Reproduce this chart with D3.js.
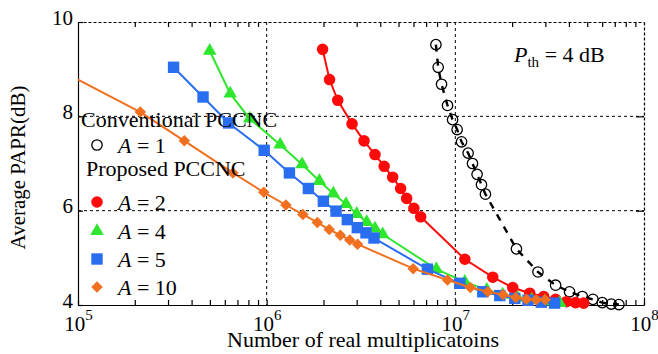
<!DOCTYPE html>
<html>
<head>
<meta charset="utf-8">
<script src="https://cdn.jsdelivr.net/npm/d3@7"></script>
<style>
    body { margin: 0; background: white; }
    svg { display: block; }
    svg text { font-family: "Liberation Serif", "Times New Roman", serif; }
</style>
</head>
<body>
<div id="papr_plot"></div>
<script>
// Conventional PCCNC, A = 1
const convX = [7.89e6, 8.11e6, 8.45e6, 9.09e6, 9.67e6, 1.022e7, 1.079e7, 1.169e7, 1.233e7, 1.304e7, 1.376e7,
    1.444e7, 2.108e7, 2.742e7, 3.40e7, 4.03e7, 4.71e7, 5.36e7, 6.01e7, 6.71e7, 7.36e7];
const convY = [9.52, 9.04, 8.68, 8.23, 7.93, 7.72, 7.46, 7.22, 7.00, 6.77, 6.55,
    6.35, 5.19, 4.70, 4.42, 4.28, 4.18, 4.12, 4.05, 4.02, 4.01];
// Proposed PCCNC
const a2X = [1.979e6, 2.154e6, 2.381e6, 2.835e6, 3.281e6, 3.751e6, 4.196e6, 4.653e6, 5.13e6, 5.52e6, 6.03e6,
    6.55e6, 1.123e7, 1.579e7, 2.015e7, 2.479e7, 2.94e7, 3.40e7, 3.88e7, 4.34e7, 4.79e7];
const a2Y = [9.42, 8.78, 8.34, 7.84, 7.48, 7.19, 6.94, 6.71, 6.47, 6.26, 6.05,
    5.87, 4.97, 4.59, 4.37, 4.25, 4.18, 4.12, 4.07, 4.05, 4.04];
const a4X = [4.99e5, 6.41e5, 8.13e5, 1.179e6, 1.541e6, 1.903e6, 2.256e6, 2.634e6, 3.0e6, 3.39e6, 3.751e6,
    4.12e6, 7.93e6, 1.123e7, 1.468e7, 1.784e7, 2.141e7, 2.54e7, 2.975e7, 3.573e7];
const a4Y = [9.39, 8.48, 7.95, 7.40, 6.98, 6.63, 6.36, 6.14, 5.93, 5.76, 5.62,
    5.50, 4.76, 4.49, 4.32, 4.22, 4.15, 4.11, 4.07, 4.04];
const a5X = [3.21e5, 4.60e5, 6.28e5, 9.70e5, 1.32e6, 1.664e6, 1.998e6, 2.332e6, 2.676e6, 3.023e6, 3.36e6,
    3.706e6, 7.11e6, 1.056e7, 1.398e7, 1.72e7, 2.065e7, 2.428e7, 2.858e7, 3.36e7];
const a5Y = [9.04, 8.41, 7.86, 7.28, 6.80, 6.47, 6.20, 5.99, 5.81, 5.64, 5.53,
    5.42, 4.76, 4.46, 4.28, 4.20, 4.14, 4.10, 4.06, 4.04];
const a10X = [8.08e4, 2.14e5, 3.66e5, 6.63e5, 9.66e5, 1.264e6, 1.556e6, 1.855e6, 2.146e6, 2.458e6, 2.756e6,
    3.03e6, 5.98e6, 9.09e6, 1.201e7, 1.486e7, 1.79e7, 2.09e7, 2.381e7, 2.683e7, 2.994e7];
const a10Y = [8.97, 8.09, 7.48, 6.80, 6.39, 6.12, 5.92, 5.75, 5.60, 5.48, 5.38,
    5.29, 4.77, 4.53, 4.37, 4.28, 4.22, 4.16, 4.12, 4.11, 4.11];

const xMajor = [1e5, 1e6, 1e7, 1e8];
const xExp = ["5", "6", "7", "8"];
const yTicks = [4, 6, 8, 10];

const series = [
    {name: "A1", label: "1", xs: convX, ys: convY, color: "black", symbol: "open"},
    {name: "A2", label: "2", xs: a2X, ys: a2Y, color: "#ff0a0a", symbol: "circle"},
    {name: "A4", label: "4", xs: a4X, ys: a4Y, color: "#2ee62e", symbol: "triangle"},
    {name: "A5", label: "5", xs: a5X, ys: a5Y, color: "#2a6ef0", symbol: "square"},
    {name: "A10", label: "10", xs: a10X, ys: a10Y, color: "#f07020", symbol: "diamond"}
];
series.forEach(s => s.values = s.xs.map((x, i) => [x, s.ys[i]]));

const margin = {top: 22, right: 14, bottom: 49, left: 78},
    width = 658 - margin.left - margin.right,
    height = 354 - margin.top - margin.bottom;

const svg = d3.select("#papr_plot")
    .append("svg")
    .attr("width", 658)
    .attr("height", 354)
    .append("g")
    .attr("transform", "translate(" + margin.left + "," + margin.top + ")");

const x = d3.scaleLog().domain([1e5, 1e8]).range([0, width]);
const y = d3.scaleLinear().domain([4, 10]).range([height, 0]);

// minor ticks 2..9 for every decade
const xMinor = [];
[1e5, 1e6, 1e7].forEach(d => d3.range(2, 10).forEach(k => xMinor.push(d * k)));

// grid
svg.append("g").selectAll("line")
    .data([1e6, 1e7])
    .join("line")
    .attr("x1", d => x(d)).attr("x2", d => x(d))
    .attr("y1", 0).attr("y2", height)
    .attr("stroke", "black").attr("stroke-dasharray", "3,3");
svg.append("g").selectAll("line")
    .data([6, 8])
    .join("line")
    .attr("x1", 0).attr("x2", width)
    .attr("y1", d => y(d)).attr("y2", d => y(d))
    .attr("stroke", "black").attr("stroke-dasharray", "3,3");

// top and right frame (dashed)
const topAxis = svg.append("g")
    .call(d3.axisTop(x).tickValues(xMinor).tickSizeInner(-5).tickSizeOuter(0).tickFormat(""));
topAxis.select(".domain").attr("stroke-dasharray", "3,2");
const rightAxis = svg.append("g")
    .attr("transform", "translate(" + width + ",0)")
    .call(d3.axisRight(y).tickValues([6, 8]).tickSizeInner(-8).tickSizeOuter(0).tickFormat(""));
rightAxis.select(".domain").attr("stroke-dasharray", "3,2");

// bottom axis
const bottomAxis = svg.append("g")
    .attr("transform", "translate(0," + height + ")")
    .call(d3.axisBottom(x).tickValues(xMinor.concat(xMajor)).tickSizeInner(-5).tickSizeOuter(0).tickFormat(""));
bottomAxis.selectAll(".tick")
    .filter(d => xMajor.includes(d))
    .append("text")
    .attr("fill", "black")
    .attr("y", 26)
    .style("font-size", "21px")
    .attr("text-anchor", "middle")
    .each(function (d) {
        const t = d3.select(this);
        t.append("tspan").text("10");
        t.append("tspan").attr("dy", -11).style("font-size", "15px").text(xExp[xMajor.indexOf(d)]);
    });

// left axis
svg.append("g")
    .call(d3.axisLeft(y).tickValues(yTicks).tickFormat(d3.format("d"))
        .tickSizeInner(-5).tickSizeOuter(0).tickPadding(5))
    .selectAll("text")
    .attr("dy", "0.1em")
    .style("font-size", "21px");
svg.selectAll(".domain, .tick line").attr("stroke-width", 1.2);

svg.append("text")
    .attr("x", width / 2 + 2)
    .attr("y", height + 42)
    .attr("text-anchor", "middle")
    .style("font-size", "22px")
    .text("Number of real multiplicatoins");
svg.append("text")
    .attr("transform", "translate(" + (25 - margin.left) + "," + (height / 2 + 4) + ") rotate(-90)")
    .attr("text-anchor", "middle")
    .style("font-size", "21px")
    .text("Average PAPR(dB)");

// P_th label
const pth = svg.append("text")
    .attr("x", 514 - margin.left)
    .attr("y", 62 - margin.top)
    .style("font-size", "22px");
pth.append("tspan").style("font-style", "italic").text("P");
pth.append("tspan").attr("dy", 5).style("font-size", "15px").text("th");
pth.append("tspan").attr("dy", -5).text(" = 4 dB");

// lines
svg.append("clipPath").attr("id", "clip")
    .append("rect").attr("x", 0).attr("y", -20).attr("width", width).attr("height", height + 40);

const to_line = d3.line()
    .x(d => x(d[0]))
    .y(d => y(d[1]));

const symbolPath = {
    circle: d3.symbol(d3.symbolCircle, 105)(),
    open: d3.symbol(d3.symbolCircle, 85)(),
    triangle: d3.symbol(d3.symbolTriangle, 80)(),
    square: d3.symbol(d3.symbolSquare, 130)(),
    diamond: d3.symbol(d3.symbolSquare, 66)()
};

function drawMarker(sel, s) {
    sel.append("path")
        .attr("d", symbolPath[s.symbol])
        .attr("transform", s.symbol === "diamond" ? "rotate(45)" : null)
        .attr("fill", s.symbol === "open" ? "none" : s.color)
        .attr("stroke", s.symbol === "open" ? "black" : "none")
        .attr("stroke-width", 1.3);
}

const plotArea = svg.append("g").attr("clip-path", "url(#clip)");
series.forEach(s => {
    const g = plotArea.append("g").attr("class", s.name);
    g.append("path")
        .attr("d", to_line(s.values))
        .attr("fill", "none")
        .attr("stroke", s.color)
        .attr("stroke-width", s.symbol === "open" ? 2.4 : 2)
        .attr("stroke-dasharray", s.symbol === "open" ? "7,7" : null);
    g.selectAll("g.pt")
        .data(s.values)
        .join("g")
        .attr("class", "pt")
        .attr("transform", d => "translate(" + x(d[0]) + "," + y(d[1]) + ")")
        .each(function () { drawMarker(d3.select(this), s); });
});

// legend
const legend = svg.append("g").style("font-size", "22px");
legend.append("text").attr("x", 81 - margin.left).attr("y", 127 - margin.top).text("Conventional PCCNC");
legend.append("text").attr("x", 86 - margin.left).attr("y", 176 - margin.top).text("Proposed PCCNC");
const legendY = [145, 202, 231, 259, 287];
series.forEach((s, i) => {
    const row = legend.append("g")
        .attr("transform", "translate(" + (97 - margin.left) + "," + (legendY[i] - margin.top) + ")");
    drawMarker(row, s);
    const t = row.append("text").attr("x", 21).attr("y", 8);
    t.append("tspan").style("font-style", "italic").text("A");
    t.append("tspan").text(" = " + s.label);
});
</script>
</body>
</html>
